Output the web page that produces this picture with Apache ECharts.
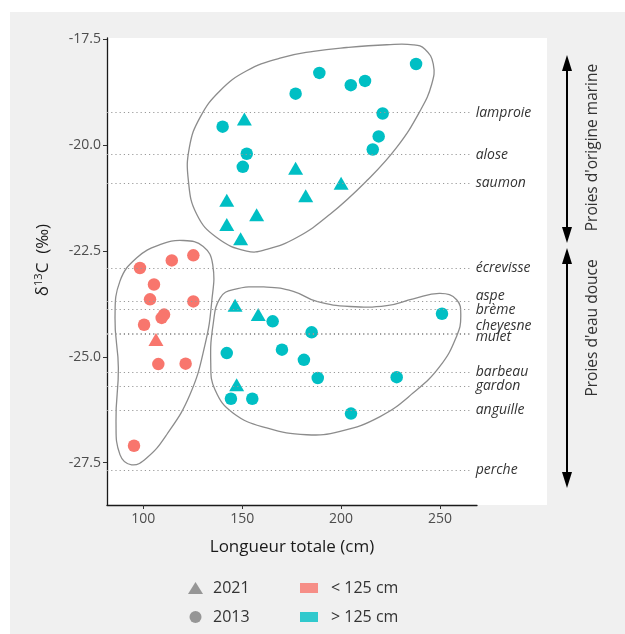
<!DOCTYPE html>
<html><head><meta charset="utf-8">
<script src="https://cdn.jsdelivr.net/npm/echarts@6/dist/echarts.min.js"></script>
<style>html,body{margin:0;padding:0;background:#fff;}#c{width:625px;height:634px;}</style>
</head><body><div id="c"></div>
<script>
// ---- data ----
const xTicks = [100, 150, 200, 250];
const yTicks = [-27.5, -25, -22.5, -20, -17.5];
const xRange = [81.65, 268.7];
const yRange = [-28.5, -17.465];

// 2013 = circles, 2021 = triangles ; small = < 125 cm, large = > 125 cm
const small2013 = [[125.3,-22.60],[114.4,-22.72],[98.3,-22.90],[105.4,-23.29],[103.4,-23.64],[125.3,-23.69],[110.5,-24.00],[109.3,-24.08],[100.4,-24.24],[107.6,-25.17],[121.4,-25.16],[95.3,-27.10]];
const small2021 = [[106.4,-24.59]];
const large2013 = [[237.9,-18.08],[189.0,-18.29],[204.9,-18.58],[212.1,-18.48],[177.0,-18.78],[221.0,-19.25],[140.1,-19.56],[219.0,-19.79],[216.0,-20.10],[152.3,-20.20],[150.3,-20.51],
  [165.4,-24.16],[185.1,-24.42],[170.1,-24.83],[142.2,-24.91],[181.2,-25.07],[188.2,-25.50],[228.1,-25.48],[251.0,-23.98],[144.3,-25.99],[155.1,-25.99],[205.0,-26.34]];
const large2021 = [[151.1,-19.38],[177.0,-20.54],[200.0,-20.90],[182.1,-21.19],[142.2,-21.30],[157.3,-21.64],[142.2,-21.87],[149.2,-22.21],[146.4,-23.78],[158.1,-24.00],[147.2,-25.66]];

// prey reference values (d13C)
const preyNames  = ['lamproie','alose','saumon','écrevisse','aspe','brème','cheyesne','mulet','barbeau','gardon','anguille','perche'];
const preyValues = [-19.23,-20.22,-20.89,-22.90,-23.68,-23.87,-24.43,-24.47,-25.36,-25.70,-26.25,-27.68];
const preyLineEnd = 266.0;

// group outlines (data coordinates)
const hullMarine = [[236.5,-17.625],[242.4,-17.73],[246.6,-18.08],[245.8,-18.557],[239.9,-19.19],[228.1,-20.05],[212.9,-20.84],[194.4,-21.63],[177.6,-22.18],[162.4,-22.46],[152.3,-22.50],[137.1,-22.18],[127.0,-21.63],[122.8,-20.84],[123.3,-20.05],[128.7,-19.34],[138.8,-18.71],[152.3,-18.24],[169.1,-17.94],[186.0,-17.78],[202.8,-17.69],[223.1,-17.625]];
const hullSmall = [[120.2,-22.25],[130.3,-22.39],[135.1,-22.82],[134.6,-23.69],[131.2,-24.71],[123.6,-25.89],[111.8,-26.84],[101.7,-27.39],[94.1,-27.55],[88.2,-27.31],[86.2,-26.52],[87.4,-25.26],[85.7,-24.08],[88.2,-23.21],[96.7,-22.66],[108.4,-22.35]];
const hullFresh = [[145.5,-23.41],[162.4,-23.35],[175.8,-23.45],[187.7,-23.69],[204.5,-23.81],[223.1,-23.79],[236.5,-23.63],[250.0,-23.50],[258.4,-23.65],[260.5,-24.04],[258.4,-24.51],[250.0,-25.22],[236.5,-25.85],[219.7,-26.41],[199.5,-26.76],[182.6,-26.84],[162.4,-26.68],[145.5,-26.33],[136.2,-25.77],[134.1,-25.14],[135.4,-24.20],[138.8,-23.61]];

// ---- chart ----
const FONT = '"Open Sans", sans-serif';
const SALMON = '#F8766D', TEAL = '#00BFC4';
const labelOffsets = {aspe:[0,-5], 'brème':[0,1], cheyesne:[0,-7], mulet:[0,3]};

function hullSeries(pts) {
  return {
    type: 'custom', coordinateSystem: 'cartesian2d', data: pts, clip: false, silent: true, z: 3,
    renderItem: function (params, api) {
      if (params.dataIndexInside !== 0) return null;
      const n = params.dataInsideLength;
      const p = [];
      for (let i = 0; i < n; i++) p.push(api.coord([api.value(0, i), api.value(1, i)]));
      return {type: 'polygon', shape: {points: p, smooth: 0.45},
        style: {fill: 'none', stroke: '#8c8c8c', lineWidth: 1.3}};
    }
  };
}

const markData = preyNames.map((nm, i) => [
  {coord: [xRange[0], preyValues[i]], name: nm, label: {offset: labelOffsets[nm] || [0,0]}},
  {coord: [preyLineEnd, preyValues[i]]}
]);

function arrow(x, y1, y2) {
  return [
    {type:'line', shape:{x1:x, y1:y1+12, x2:x, y2:y2-12}, style:{stroke:'#000', lineWidth:2}},
    {type:'polygon', shape:{points:[[x,y1],[x-5,y1+16],[x+5,y1+16]]}, style:{fill:'#000'}},
    {type:'polygon', shape:{points:[[x,y2],[x-5,y2-16],[x+5,y2-16]]}, style:{fill:'#000'}}
  ];
}

const chart = echarts.init(document.getElementById('c'), null, {renderer: 'canvas'});
chart.setOption({
  animation: false,
  textStyle: {fontFamily: FONT},
  grid: {left: 107, top: 38, width: 370, height: 467},
  xAxis: {
    type: 'value', min: xRange[0], max: xRange[1], splitLine: {show: false},
    axisLine: {onZero: false, lineStyle: {color: '#1a1a1a', width: 1.3}},
    axisTick: {customValues: xTicks, length: 4, lineStyle: {color: '#333', width: 1}},
    axisLabel: {customValues: xTicks, fontSize: 14, color: '#4d4d4d', margin: 7, fontFamily: FONT},
    name: 'Longueur totale (cm)', nameLocation: 'middle', nameGap: 34,
    nameTextStyle: {fontSize: 17, color: '#1a1a1a', fontFamily: FONT}
  },
  yAxis: {
    type: 'value', min: yRange[0], max: yRange[1], splitLine: {show: false},
    axisLine: {onZero: false, lineStyle: {color: '#1a1a1a', width: 1.3}},
    axisTick: {customValues: yTicks, length: 4, lineStyle: {color: '#333', width: 1}},
    axisLabel: {customValues: yTicks, fontSize: 14, color: '#4d4d4d', margin: 6, fontFamily: FONT,
      formatter: v => v.toFixed(1)}
  },
  legend: [
    {data: [{name:'2021', icon:'triangle'}, {name:'2013', icon:'circle'}], orient: 'vertical',
     left: 183, top: 575, itemWidth: 15, itemHeight: 12, itemGap: 13, selectedMode: false,
     textStyle: {fontSize: 16, color: '#333', fontFamily: FONT, padding: [0,0,0,5]}},
    {data: [{name:'< 125 cm', icon:'rect'}, {name:'> 125 cm', icon:'rect'}], orient: 'vertical',
     left: 295, top: 575, itemWidth: 18, itemHeight: 10, itemGap: 13, selectedMode: false,
     textStyle: {fontSize: 16, color: '#333', fontFamily: FONT, padding: [0,0,0,8]}}
  ],
  graphic: [
    {type:'rect', z:-10, silent:true, shape:{x:10, y:12, width:615, height:622}, style:{fill:'#f0f0f0'}},
    {type:'rect', z:-9, silent:true, shape:{x:107, y:38, width:440, height:467}, style:{fill:'#ffffff'}},
    ...arrow(567, 55, 243),
    ...arrow(567, 248, 488),
    {type:'text', x:593, y:147.5, rotation:Math.PI/2,
     style:{text:"Proies d'origine marine", fontSize:15.5, fontFamily:FONT, fill:'#333', align:'center', verticalAlign:'middle'}},
    {type:'text', x:593, y:328, rotation:Math.PI/2,
     style:{text:"Proies d'eau douce", fontSize:15.5, fontFamily:FONT, fill:'#333', align:'center', verticalAlign:'middle'}},
    {type:'text', x:43, y:260, rotation:Math.PI/2,
     style:{text:'{a|δ}{s|13}{a|C  (‰)}', fontSize:17, fontFamily:FONT, fill:'#1a1a1a', align:'center', verticalAlign:'middle',
       rich: {a: {fontSize: 17, fill: '#1a1a1a', fontFamily: FONT, lineHeight: 20},
              s: {fontSize: 11, fill: '#1a1a1a', fontFamily: FONT, verticalAlign: 'top', lineHeight: 20}}}}
  ],
  series: [
    {name:'refs', type:'line', data: [], silent: true,
     markLine: {silent: true, symbol: ['none','none'], animation: false,
       lineStyle: {type: [1.2, 3], color: '#9a9a9a', width: 1},
       label: {show: true, position: 'end', distance: 4, formatter: '{b}', fontStyle: 'italic',
               fontSize: 14, color: '#333', fontFamily: FONT},
       emphasis: {disabled: true},
       data: markData}},
    hullSeries(hullMarine),
    hullSeries(hullSmall),
    hullSeries(hullFresh),
    {name:'s2013', type:'scatter', data: small2013, symbol:'circle', symbolSize: 12.5, itemStyle:{color:SALMON, opacity:1}, z:4},
    {name:'s2021', type:'scatter', data: small2021, symbol:'triangle', symbolSize: [15,13], itemStyle:{color:SALMON, opacity:1}, z:4},
    {name:'l2013', type:'scatter', data: large2013, symbol:'circle', symbolSize: 12.5, itemStyle:{color:TEAL, opacity:1}, z:4},
    {name:'l2021', type:'scatter', data: large2021, symbol:'triangle', symbolSize: [15,13], itemStyle:{color:TEAL, opacity:1}, z:4},
    {name:'2021', type:'scatter', data: [], symbol:'triangle', itemStyle:{color:'#7f7f7f'}},
    {name:'2013', type:'scatter', data: [], symbol:'circle', itemStyle:{color:'#7f7f7f'}},
    {name:'< 125 cm', type:'scatter', data: [], symbol:'rect', itemStyle:{color:SALMON}},
    {name:'> 125 cm', type:'scatter', data: [], symbol:'rect', itemStyle:{color:TEAL}}
  ]
});
</script>
</body></html>
